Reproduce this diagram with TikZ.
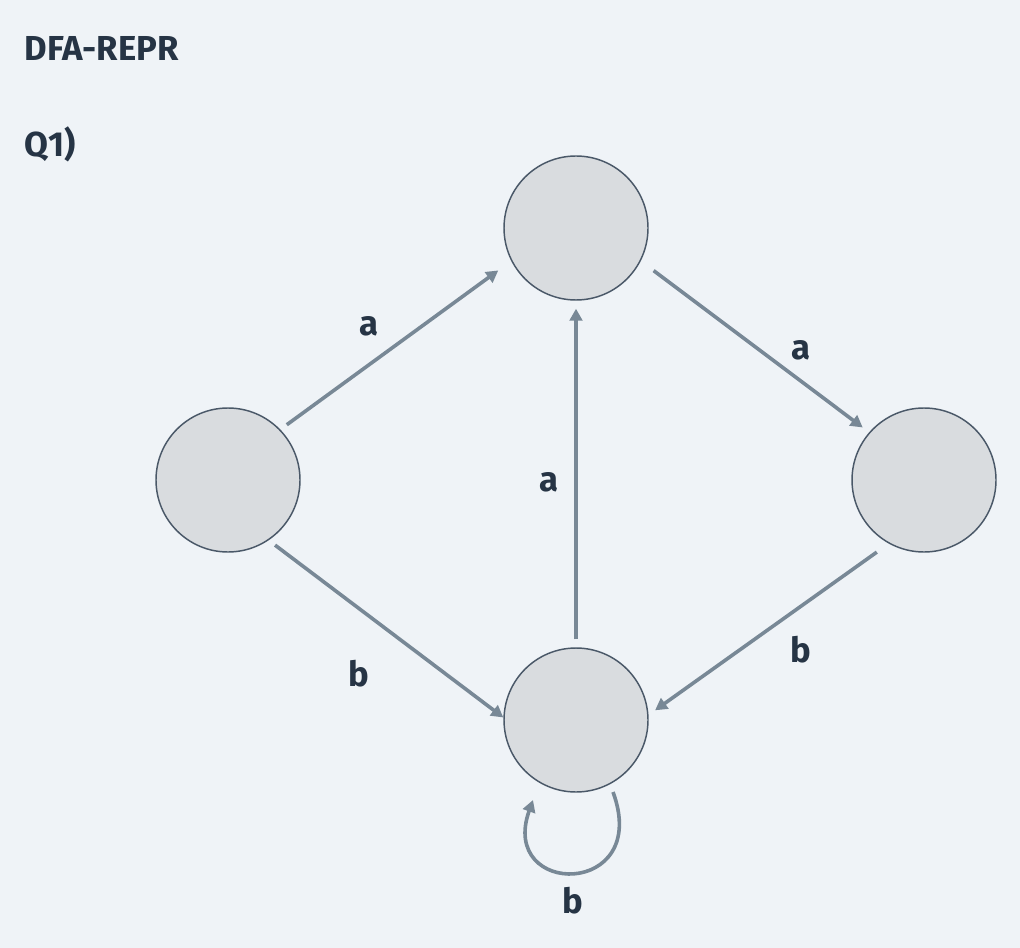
\documentclass[tikz,border=0pt]{standalone}
\usepackage{fontspec}
\setmainfont{Fira Sans}
\usetikzlibrary{arrows.meta}

\definecolor{bgcol}{HTML}{EFF3F7}
\definecolor{statefill}{HTML}{D9DCDF}
\definecolor{statedraw}{HTML}{4A5868}
\definecolor{edgecol}{HTML}{788896}
\definecolor{textcol}{HTML}{263445}

\begin{document}
\begin{tikzpicture}[
		x=0.75pt, y=-0.75pt,
		state/.style={ % 状态圆
				circle, minimum size=108pt, inner sep=0pt,
				fill=statefill, draw=statedraw, line width=1.1pt
			},
		trans/.style={ % 转移箭头
				draw=edgecol, line width=2.7pt,
				-{Triangle[length=9pt,width=9.5pt]},
				shorten <=6pt, shorten >=6pt
			},
		lbl/.style={text=textcol, font=\fontsize{26}{30}\selectfont\bfseries}
	]
	\useasboundingbox[fill=bgcol] (0,0) rectangle (1020,948);
	% 标题
	\node[lbl, anchor=west] (title) at (20,48) {DFA-REPR};
	\node[lbl, anchor=west] (quest) at (20,144) {Q1)};
	% 状态
	\node[state] (q0) at (228,480) {};
	\node[state] (q1) at (576,228) {};
	\node[state] (q2) at (924,480) {};
	\node[state] (q3) at (576,720) {};
	% 转移
	\draw[trans, shorten >=12pt] (q0.44) -- (q1.207);
	\draw[trans, shorten <=12pt] (q1.-27) -- (q2.139);
	\draw[trans] (q3) -- (q1);
	\draw[trans, shorten >=0pt] (q0.-56) -- (q3.178);
	\draw[trans, shorten <=11pt] (q2.-119) -- (q3.4);
	% 自环
	\draw[trans, shorten <=0pt, shorten >=0pt]
		([shift={(37,72)}]q3.center) .. controls (652,898) and (498,898)
		.. ([shift={(-43,80)}]q3.center);
	% 标签
	\node[lbl] (la1) at (369,326) {a};
	\node[lbl] (la2) at (801,350) {a};
	\node[lbl] (la3) at (549,482) {a};
	\node[lbl] (lb1) at (359,674) {b};
	\node[lbl] (lb2) at (801,650) {b};
	\node[lbl] (lb3) at (573,901) {b};
\end{tikzpicture}
\end{document}
